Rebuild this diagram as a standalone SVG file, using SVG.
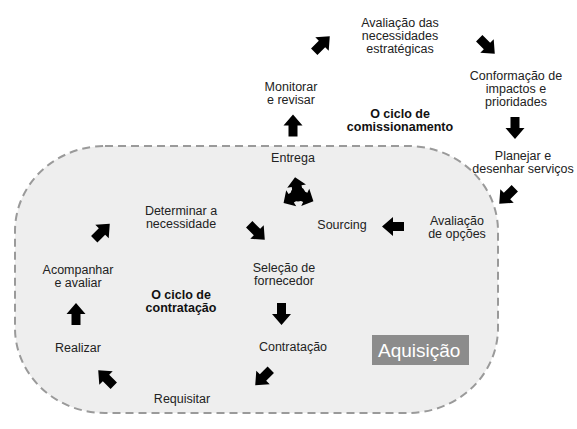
<svg xmlns="http://www.w3.org/2000/svg" xmlns:xlink="http://www.w3.org/1999/xlink" width="577" height="429" viewBox="0 0 577 429">
<style>
.t{font-family:"Liberation Sans",Arial,sans-serif;font-size:12.5px;fill:#222;text-anchor:middle}
.b{font-family:"Liberation Sans",Arial,sans-serif;font-size:12.5px;font-weight:bold;fill:#111;text-anchor:middle}
.aq{font-family:"Liberation Sans",Arial,sans-serif;font-size:19px;fill:#fff}
</style>
<defs>
<path id="arr" d="M-11,-4.5 H0 V-9.5 L11,0 L0,9.5 V4.5 H-11 Z" fill="#000"/>
<path id="arm" d="M-2,-5 H8 V-9.5 L17,0 L8,9.5 V5 H-2 Z" fill="#000"/>
</defs>
<g id="region">
<rect x="15" y="146" width="483" height="267" rx="90" ry="85" fill="#eeeeee" stroke="#9a9a9a" stroke-width="2" stroke-dasharray="8,5"/>
<rect x="372" y="335" width="97" height="30" fill="#8c8c8c"/>
<text class="aq" x="378" y="357">Aquisição</text>
</g>
<g id="n-avaliacao-necessidades"><text class="t" x="400" y="27">Avaliação das</text><text class="t" x="400" y="40">necessidades</text><text class="t" x="400" y="53">estratégicas</text></g>
<g id="n-conformacao"><text class="t" x="516" y="80">Conformação de</text><text class="t" x="516" y="93">impactos e</text><text class="t" x="516" y="106">prioridades</text></g>
<g id="n-monitorar"><text class="t" x="291" y="91">Monitorar</text><text class="t" x="291" y="104">e revisar</text></g>
<g id="n-ciclo-comissionamento"><text class="b" x="400" y="118">O ciclo de</text><text class="b" x="400" y="131">comissionamento</text></g>
<g id="n-entrega"><text class="t" x="293" y="162">Entrega</text></g>
<g id="n-planejar"><text class="t" x="523" y="160">Planejar e</text><text class="t" x="523" y="173">desenhar serviços</text></g>
<g id="n-sourcing"><text class="t" x="342" y="229">Sourcing</text></g>
<g id="n-avaliacao-opcoes"><text class="t" x="457" y="225">Avaliação</text><text class="t" x="457" y="238">de opções</text></g>
<g id="n-determinar"><text class="t" x="181" y="215">Determinar a</text><text class="t" x="181" y="228">necessidade</text></g>
<g id="n-selecao"><text class="t" x="284" y="272">Seleção de</text><text class="t" x="284" y="285">fornecedor</text></g>
<g id="n-acompanhar"><text class="t" x="78" y="274">Acompanhar</text><text class="t" x="78" y="287">e avaliar</text></g>
<g id="n-ciclo-contratacao"><text class="b" x="181" y="299">O ciclo de</text><text class="b" x="181" y="312">contratação</text></g>
<g id="n-realizar"><text class="t" x="78" y="352">Realizar</text></g>
<g id="n-contratacao"><text class="t" x="293" y="351">Contratação</text></g>
<g id="n-requisitar"><text class="t" x="182" y="403">Requisitar</text></g>
<g id="connectors">
<use href="#arr" transform="translate(322,44) rotate(-45)"/>
<use href="#arr" transform="translate(487,46) rotate(45)"/>
<use href="#arr" transform="translate(515,128) rotate(90)"/>
<use href="#arr" transform="translate(293,125.5) rotate(-90)"/>
<use href="#arr" transform="translate(507,196) rotate(135)"/>
<use href="#arr" transform="translate(393,226.5) rotate(180)"/>
<use href="#arr" transform="translate(257,232) rotate(45)"/>
<use href="#arr" transform="translate(102,231.5) rotate(-45)"/>
<use href="#arr" transform="translate(281.5,314) rotate(90)"/>
<use href="#arr" transform="translate(76,314) rotate(-90)"/>
<use href="#arr" transform="translate(263,377.5) rotate(135)"/>
<use href="#arr" transform="translate(106,378) rotate(-135)"/>
<g transform="translate(298,194)">
<circle r="7.5" fill="#000"/>
<use href="#arm" transform="rotate(-100)"/>
<use href="#arm" transform="rotate(25)"/>
<use href="#arm" transform="rotate(148)"/>
</g>
</g>
</svg>
